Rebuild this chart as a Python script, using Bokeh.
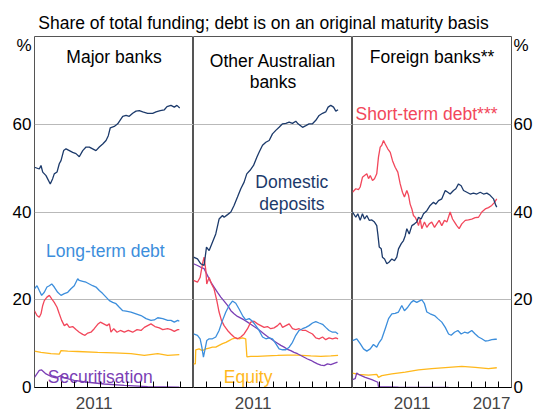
from bokeh.plotting import figure
from bokeh.models import Range1d, FixedTicker
from bokeh.layouts import column, row
from bokeh.embed import file_html
from bokeh.resources import INLINE
from bokeh.core.properties import value

# ---------------- data (decimal year, per cent of total funding) ----------------
SUBTITLE = "Share of total funding; debt is on an original maturity basis"
PANEL_TITLES = [["Major banks"], ["Other Australian", "banks"], ["Foreign banks**"]]
Y_TICKS = [0, 20, 40, 60]
YEAR_LABELS_INNER = [2011]
YEAR_LABELS_LAST = [2011, 2017]

MAJOR_DEPOSITS = [(2007.00, 50.2), (2007.36, 49.8), (2007.49, 50.6), (2007.62, 49.1), (2007.87, 48.3), (2008.19, 46.4), (2008.37, 47.6), (2008.49, 48.7), (2008.70, 49.1), (2008.87, 51.0), (2009.00, 51.7), (2009.20, 54.0), (2009.38, 54.4), (2009.63, 54.0), (2009.88, 53.6), (2010.13, 53.3), (2010.38, 52.6), (2010.64, 54.0), (2010.89, 54.8), (2011.14, 54.8), (2011.39, 54.4), (2011.64, 54.0), (2011.89, 54.8), (2012.15, 55.5), (2012.40, 56.3), (2012.57, 57.4), (2012.72, 59.2), (2013.02, 59.5), (2013.28, 60.1), (2013.48, 61.0), (2013.66, 61.8), (2013.91, 62.0), (2014.15, 61.8), (2014.41, 62.5), (2014.66, 63.0), (2014.91, 63.1), (2015.17, 62.8), (2015.54, 62.5), (2015.92, 62.5), (2016.17, 62.8), (2016.49, 63.1), (2016.80, 63.3), (2017.00, 64.0), (2017.30, 64.3), (2017.55, 63.9), (2017.75, 64.3), (2017.96, 63.7)]
MAJOR_LONG = [(2007.00, 22.5), (2007.19, 23.2), (2007.36, 22.1), (2007.54, 21.0), (2007.74, 21.7), (2007.94, 22.9), (2008.12, 23.2), (2008.30, 23.6), (2008.49, 22.9), (2008.75, 21.7), (2009.00, 21.0), (2009.25, 21.4), (2009.51, 21.7), (2009.75, 22.5), (2010.00, 23.2), (2010.26, 24.8), (2010.38, 24.4), (2010.64, 24.2), (2010.89, 24.0), (2011.14, 23.6), (2011.39, 23.2), (2011.64, 22.9), (2011.89, 22.1), (2012.15, 21.4), (2012.40, 20.6), (2012.65, 19.8), (2012.90, 19.4), (2013.15, 19.1), (2013.40, 18.3), (2013.66, 17.5), (2013.91, 17.4), (2014.28, 17.2), (2014.66, 16.8), (2015.04, 16.4), (2015.42, 15.7), (2015.79, 15.3), (2016.04, 15.4), (2016.30, 15.9), (2016.68, 15.7), (2017.05, 15.3), (2017.30, 15.3), (2017.55, 14.9), (2017.81, 15.3), (2017.93, 15.1)]
MAJOR_SHORT = [(2007.00, 17.5), (2007.19, 16.4), (2007.36, 16.0), (2007.49, 16.8), (2007.62, 18.7), (2007.74, 19.8), (2007.94, 20.6), (2008.12, 21.0), (2008.30, 20.2), (2008.49, 19.4), (2008.70, 18.3), (2008.87, 16.8), (2009.05, 15.3), (2009.25, 14.1), (2009.45, 14.5), (2009.63, 13.7), (2009.88, 13.9), (2010.13, 13.2), (2010.38, 12.6), (2010.64, 12.1), (2010.81, 11.9), (2011.02, 12.4), (2011.26, 12.6), (2011.51, 13.4), (2011.77, 14.4), (2011.97, 14.9), (2012.22, 14.5), (2012.47, 14.1), (2012.65, 14.5), (2012.77, 12.6), (2012.98, 13.4), (2013.23, 12.6), (2013.48, 13.0), (2013.78, 12.6), (2014.08, 13.0), (2014.41, 12.6), (2014.74, 13.2), (2015.04, 13.0), (2015.29, 13.7), (2015.54, 14.1), (2015.79, 14.5), (2016.09, 13.9), (2016.42, 13.6), (2016.68, 13.2), (2017.05, 13.4), (2017.30, 13.2), (2017.55, 12.8), (2017.81, 13.2), (2017.93, 13.2)]
MAJOR_EQUITY = [(2007.00, 8.3), (2007.49, 8.0), (2008.24, 7.7), (2008.87, 7.6), (2009.00, 8.4), (2009.51, 8.3), (2010.26, 8.2), (2011.77, 8.0), (2013.02, 7.9), (2014.28, 7.7), (2015.29, 7.3), (2016.30, 7.7), (2017.05, 7.3), (2017.93, 7.5)]
MAJOR_SECURITISATION = [(2007.00, 2.3), (2007.36, 3.9), (2007.54, 4.0), (2007.87, 3.1), (2008.25, 2.5), (2008.62, 2.2), (2009.00, 2.7), (2009.25, 2.2), (2010.00, 1.6), (2011.02, 1.2), (2012.27, 0.8), (2013.78, 0.5), (2015.54, 0.2), (2017.93, 0.1)]

OTHER_DEPOSITS = [(2007.00, 29.7), (2007.30, 29.3), (2007.55, 28.2), (2007.80, 27.8), (2007.98, 32.0), (2008.18, 31.2), (2008.43, 33.1), (2008.68, 35.0), (2008.93, 38.4), (2009.19, 39.2), (2009.31, 38.8), (2009.57, 39.4), (2009.82, 40.0), (2010.06, 41.5), (2010.32, 43.4), (2010.57, 45.3), (2010.82, 46.8), (2011.02, 48.7), (2011.27, 49.5), (2011.53, 50.6), (2011.78, 52.5), (2011.95, 53.6), (2012.21, 55.2), (2012.46, 55.9), (2012.71, 56.3), (2012.96, 57.8), (2013.21, 58.6), (2013.46, 59.3), (2013.72, 60.1), (2013.97, 60.2), (2014.22, 60.5), (2014.47, 60.2), (2014.72, 60.7), (2014.89, 60.1), (2015.23, 59.3), (2015.48, 59.7), (2015.72, 60.1), (2015.98, 60.1), (2016.23, 60.9), (2016.48, 62.0), (2016.74, 62.5), (2016.98, 62.8), (2017.16, 63.9), (2017.36, 64.3), (2017.57, 63.9), (2017.74, 63.0), (2017.91, 63.3)]
OTHER_SHORT = [(2007.00, 24.4), (2007.30, 24.0), (2007.50, 25.1), (2007.68, 28.2), (2007.80, 29.7), (2007.93, 26.7), (2008.00, 23.6), (2008.18, 25.1), (2008.36, 23.6), (2008.55, 22.5), (2008.76, 19.8), (2008.93, 17.2), (2009.11, 15.3), (2009.31, 14.1), (2009.57, 13.0), (2009.82, 12.2), (2010.06, 11.5), (2010.32, 11.1), (2010.57, 11.5), (2010.82, 12.2), (2011.08, 13.4), (2011.32, 14.9), (2011.57, 15.1), (2011.83, 14.5), (2012.08, 14.1), (2012.33, 13.7), (2012.58, 13.9), (2012.83, 13.4), (2013.08, 13.6), (2013.34, 14.1), (2013.54, 14.7), (2013.72, 13.7), (2013.97, 14.1), (2014.22, 14.5), (2014.47, 13.4), (2014.72, 13.2), (2014.97, 13.4), (2015.23, 13.0), (2015.48, 13.0), (2015.72, 12.6), (2015.98, 12.2), (2016.23, 11.3), (2016.48, 11.1), (2016.74, 11.5), (2016.98, 10.9), (2017.23, 11.3), (2017.49, 11.1), (2017.74, 11.3), (2017.91, 11.1)]
OTHER_LONG = [(2007.00, 12.2), (2007.30, 11.9), (2007.50, 11.1), (2007.63, 9.2), (2007.75, 6.9), (2007.85, 8.4), (2008.00, 10.7), (2008.18, 11.1), (2008.43, 11.1), (2008.68, 11.5), (2008.93, 13.0), (2009.19, 15.3), (2009.44, 17.2), (2009.69, 18.7), (2009.94, 19.7), (2010.19, 19.2), (2010.44, 17.9), (2010.70, 16.4), (2010.94, 15.4), (2011.20, 15.7), (2011.45, 15.1), (2011.70, 14.1), (2011.95, 13.0), (2012.21, 11.5), (2012.46, 11.1), (2012.71, 11.3), (2012.96, 11.1), (2013.21, 10.0), (2013.46, 8.8), (2013.72, 8.6), (2013.97, 8.6), (2014.22, 9.2), (2014.47, 10.3), (2014.72, 11.9), (2014.97, 13.0), (2015.23, 13.4), (2015.48, 13.7), (2015.72, 14.1), (2015.98, 14.7), (2016.23, 15.0), (2016.48, 14.7), (2016.74, 14.4), (2016.98, 13.7), (2017.23, 13.0), (2017.49, 12.6), (2017.74, 12.6), (2017.91, 12.2)]
OTHER_SECURITISATION = [(2007.00, 28.2), (2007.30, 27.8), (2007.55, 27.4), (2007.80, 27.1), (2008.06, 25.5), (2008.31, 24.0), (2008.55, 22.9), (2008.81, 21.7), (2009.06, 20.6), (2009.31, 19.7), (2009.57, 18.7), (2009.82, 17.5), (2010.06, 16.8), (2010.32, 16.2), (2010.57, 15.8), (2010.82, 15.4), (2011.08, 14.9), (2011.32, 14.4), (2011.57, 13.9), (2011.83, 13.4), (2012.08, 12.8), (2012.33, 12.2), (2012.58, 11.6), (2012.83, 11.1), (2013.08, 10.6), (2013.34, 10.1), (2013.59, 9.6), (2013.84, 9.2), (2014.09, 8.7), (2014.34, 8.4), (2014.59, 8.0), (2014.85, 7.7), (2015.10, 7.3), (2015.35, 6.9), (2015.60, 6.5), (2015.85, 6.2), (2016.10, 5.8), (2016.36, 5.4), (2016.61, 5.1), (2016.86, 5.0), (2017.11, 5.4), (2017.36, 5.2), (2017.61, 5.5), (2017.87, 5.8)]
OTHER_EQUITY = [(2007.00, 5.4), (2007.14, 5.4), (2007.17, 8.6), (2007.42, 8.8), (2007.68, 8.4), (2007.93, 8.8), (2008.18, 9.0), (2008.43, 9.2), (2008.68, 9.2), (2008.93, 9.6), (2009.19, 10.0), (2009.44, 10.3), (2009.69, 10.7), (2009.94, 11.1), (2010.19, 11.3), (2010.44, 11.1), (2010.70, 11.3), (2010.94, 11.1), (2011.03, 7.0), (2011.32, 7.1), (2011.83, 7.1), (2012.58, 7.2), (2013.34, 7.3), (2014.09, 7.4), (2014.85, 7.4), (2015.85, 7.2), (2016.61, 7.1), (2017.36, 7.2), (2017.91, 7.3)]

FOREIGN_DEPOSITS = [(2007.00, 40.0), (2007.25, 38.8), (2007.40, 39.6), (2007.58, 38.1), (2007.75, 39.6), (2007.91, 38.4), (2008.08, 39.2), (2008.26, 38.1), (2008.46, 38.2), (2008.66, 37.7), (2008.83, 36.9), (2008.91, 35.0), (2009.02, 32.0), (2009.17, 31.6), (2009.26, 29.7), (2009.42, 29.3), (2009.59, 28.2), (2009.77, 28.6), (2009.97, 29.3), (2010.17, 28.9), (2010.34, 29.7), (2010.47, 31.6), (2010.68, 32.8), (2010.85, 33.5), (2010.98, 34.6), (2011.10, 36.2), (2011.28, 35.0), (2011.48, 36.9), (2011.68, 37.3), (2011.85, 37.7), (2011.98, 38.8), (2012.18, 38.4), (2012.36, 39.6), (2012.61, 40.3), (2012.86, 41.5), (2013.11, 42.2), (2013.29, 41.8), (2013.49, 42.6), (2013.74, 43.0), (2014.00, 44.9), (2014.19, 44.5), (2014.37, 44.1), (2014.62, 44.9), (2014.80, 45.3), (2015.00, 46.4), (2015.20, 46.0), (2015.38, 44.9), (2015.63, 44.5), (2015.88, 44.1), (2016.13, 44.3), (2016.38, 44.1), (2016.64, 44.5), (2016.89, 44.1), (2017.14, 44.3), (2017.39, 43.8), (2017.64, 43.0), (2017.82, 41.5), (2017.89, 41.1)]
FOREIGN_SHORT = [(2007.00, 44.5), (2007.25, 45.3), (2007.45, 45.1), (2007.58, 45.7), (2007.75, 47.9), (2007.91, 48.3), (2008.08, 48.7), (2008.21, 47.6), (2008.34, 48.3), (2008.51, 47.2), (2008.66, 47.6), (2008.83, 48.7), (2008.96, 52.5), (2009.09, 54.8), (2009.21, 55.2), (2009.34, 56.3), (2009.47, 55.5), (2009.66, 54.4), (2009.85, 53.6), (2010.02, 51.7), (2010.22, 50.2), (2010.42, 49.1), (2010.60, 46.4), (2010.77, 44.5), (2010.92, 43.4), (2011.10, 44.9), (2011.23, 43.8), (2011.35, 41.8), (2011.48, 40.7), (2011.60, 39.2), (2011.73, 38.8), (2011.85, 38.1), (2011.98, 36.9), (2012.11, 38.4), (2012.23, 36.2), (2012.43, 37.7), (2012.61, 36.5), (2012.79, 37.3), (2012.98, 37.7), (2013.19, 36.5), (2013.36, 37.3), (2013.54, 38.1), (2013.74, 36.9), (2013.94, 38.1), (2014.12, 37.7), (2014.37, 40.0), (2014.55, 38.4), (2014.70, 37.7), (2014.87, 36.9), (2015.05, 36.2), (2015.25, 37.3), (2015.51, 38.1), (2015.75, 38.2), (2016.00, 38.4), (2016.26, 38.7), (2016.51, 38.8), (2016.76, 40.0), (2017.02, 40.7), (2017.26, 41.0), (2017.51, 41.5), (2017.72, 42.2), (2017.89, 43.0)]
FOREIGN_LONG = [(2007.00, 10.7), (2007.32, 11.1), (2007.58, 10.0), (2007.83, 8.8), (2008.08, 8.3), (2008.34, 8.8), (2008.58, 9.8), (2008.83, 9.2), (2009.02, 10.3), (2009.21, 11.1), (2009.47, 13.4), (2009.72, 15.7), (2009.97, 16.8), (2010.22, 16.9), (2010.47, 17.2), (2010.72, 18.7), (2010.92, 17.5), (2011.17, 18.3), (2011.43, 19.4), (2011.60, 19.8), (2011.85, 19.4), (2012.03, 19.7), (2012.23, 20.0), (2012.43, 19.1), (2012.61, 17.2), (2012.86, 16.8), (2013.19, 16.4), (2013.44, 15.7), (2013.74, 14.9), (2014.00, 13.7), (2014.25, 12.2), (2014.45, 11.9), (2014.70, 12.6), (2014.95, 13.0), (2015.20, 12.2), (2015.45, 12.6), (2015.70, 12.4), (2016.00, 13.0), (2016.26, 12.2), (2016.51, 11.5), (2016.76, 11.1), (2017.02, 10.6), (2017.26, 10.7), (2017.51, 10.9), (2017.77, 11.0), (2017.89, 11.0)]
FOREIGN_EQUITY = [(2007.00, 3.3), (2007.45, 3.0), (2008.21, 2.8), (2008.83, 3.0), (2008.96, 2.3), (2009.21, 2.7), (2009.97, 3.1), (2010.98, 3.5), (2011.98, 4.0), (2012.98, 4.3), (2014.25, 4.6), (2015.25, 4.8), (2016.26, 4.6), (2017.26, 4.3), (2017.89, 4.5)]
FOREIGN_SECURITISATION = [(2007.00, 1.8), (2007.20, 2.0), (2007.32, 3.3), (2007.45, 3.0), (2007.96, 2.3), (2008.46, 1.8), (2008.91, 1.2), (2008.96, 0.2), (2010.47, 0.1), (2014.25, 0.05)]

# ---------------- style ----------------
FONT = "Liberation Sans"
TXT = "17.5px"
TICK = "17px"
NAVY = "#1C3A6B"
BLUE = "#3C8EDC"
RED = "#F2475B"
YELLOW = "#FFB81C"
PURPLE = "#7B3FB5"
GRID = "#B9B9B9"
FRAME = "#555555"
LINE_W = 1.3

LEFT_W = 34
RIGHT_W = 24
TOP_H = 35

y_rng = Range1d(0, 80)
PCT_POS = 78.4


def style_y(ax, standoff):
    ax.ticker = FixedTicker(ticks=Y_TICKS + [PCT_POS])
    ax.major_label_overrides = {PCT_POS: "%"}
    ax.major_tick_in = 0
    ax.major_tick_out = 0
    ax.minor_tick_in = 0
    ax.minor_tick_out = 0
    ax.axis_line_color = None
    ax.major_label_text_font = FONT
    ax.major_label_text_font_size = TICK
    ax.major_label_text_color = "black"
    ax.major_label_standoff = standoff


titles_y = {0: [75.3], 1: [74.5, 69.6]}


def make_panel(series, years, min_left, min_right, yloc, titles, texts):
    p = figure(frame_width=159, frame_height=351, x_range=Range1d(2007, 2019), y_range=y_rng,
               output_backend="svg", toolbar_location=None, y_axis_location=yloc,
               min_border_left=min_left, min_border_right=min_right, min_border_top=1,
               min_border_bottom=0)
    p.outline_line_color = FRAME
    p.outline_line_width = 1
    p.xgrid.visible = False
    p.ygrid.ticker = FixedTicker(ticks=[20, 40, 60])
    p.ygrid.grid_line_color = GRID
    p.ygrid.grid_line_width = 1
    xa = p.xaxis[0]
    xa.ticker = FixedTicker(ticks=[y + 0.5 for y in years], minor_ticks=list(range(2008, 2019)))
    xa.major_label_overrides = {y + 0.5: str(y) for y in years}
    xa.major_tick_in = 0
    xa.major_tick_out = 0
    xa.minor_tick_in = 6
    xa.minor_tick_out = 0
    xa.minor_tick_line_color = "black"
    xa.axis_line_color = "black"
    xa.major_label_text_font = FONT
    xa.major_label_text_font_size = TICK
    xa.major_label_standoff = 9
    if yloc is not None:
        style_y(p.yaxis[0], 3 if yloc == "left" else 2)
    for data, color in series:
        xs = [d[0] for d in data]
        ys = [d[1] for d in data]
        p.line(xs, ys, line_color=color, line_width=LINE_W)
    for i, t in enumerate(titles):
        p.text(x=[2013.0], y=[titles_y[len(titles) - 1][i]], text=[t], text_font=value(FONT),
               text_font_size=value(TXT), text_color="black", text_align="center",
               text_baseline="alphabetic")
    for x, y, t, c, align in texts:
        p.text(x=[x], y=[y], text=[t], text_font=value(FONT), text_font_size=value(TXT),
               text_color=c, text_align=align, text_baseline="alphabetic")
    return p


f1 = make_panel([(MAJOR_EQUITY, YELLOW), (MAJOR_SECURITISATION, PURPLE), (MAJOR_SHORT, RED),
                 (MAJOR_LONG, BLUE), (MAJOR_DEPOSITS, NAVY)],
                YEAR_LABELS_INNER, LEFT_W, 0, "left", PANEL_TITLES[0],
                [(2007.87, 31.2, "Long-term debt", BLUE, "left"),
                 (2008.0, 2.3, "Securitisation", PURPLE, "left")])
f2 = make_panel([(OTHER_EQUITY, YELLOW), (OTHER_SECURITISATION, PURPLE), (OTHER_SHORT, RED),
                 (OTHER_LONG, BLUE), (OTHER_DEPOSITS, NAVY)],
                YEAR_LABELS_INNER, 0, 0, None, PANEL_TITLES[1],
                [(2009.29, 2.4, "Equity", YELLOW, "left"),
                 (2014.42, 46.8, "Domestic", NAVY, "center"),
                 (2014.42, 41.9, "deposits", NAVY, "center")])
f3 = make_panel([(FOREIGN_EQUITY, YELLOW), (FOREIGN_SECURITISATION, PURPLE), (FOREIGN_LONG, BLUE),
                 (FOREIGN_SHORT, RED), (FOREIGN_DEPOSITS, NAVY)],
                YEAR_LABELS_LAST, 0, RIGHT_W, "right", PANEL_TITLES[2],
                [(2007.23, 62.4, "Short-term debt***", RED, "left")])

TOTAL_W = LEFT_W + 159 * 3 + RIGHT_W
top = figure(width=TOTAL_W, height=TOP_H, x_range=Range1d(0, TOTAL_W), y_range=Range1d(0, TOP_H),
             output_backend="svg", toolbar_location=None, x_axis_location=None,
             y_axis_location=None, min_border=0)
top.outline_line_color = None
top.grid.visible = False
top.text(x=[263], y=[TOP_H - 22.0], text=[SUBTITLE], text_font=value(FONT), text_font_size=value(TXT),
         text_color="black", text_align="center", text_baseline="middle")

layout = column(top, row(f1, f2, f3))
open("out.html", "w").write(file_html(layout, INLINE))
